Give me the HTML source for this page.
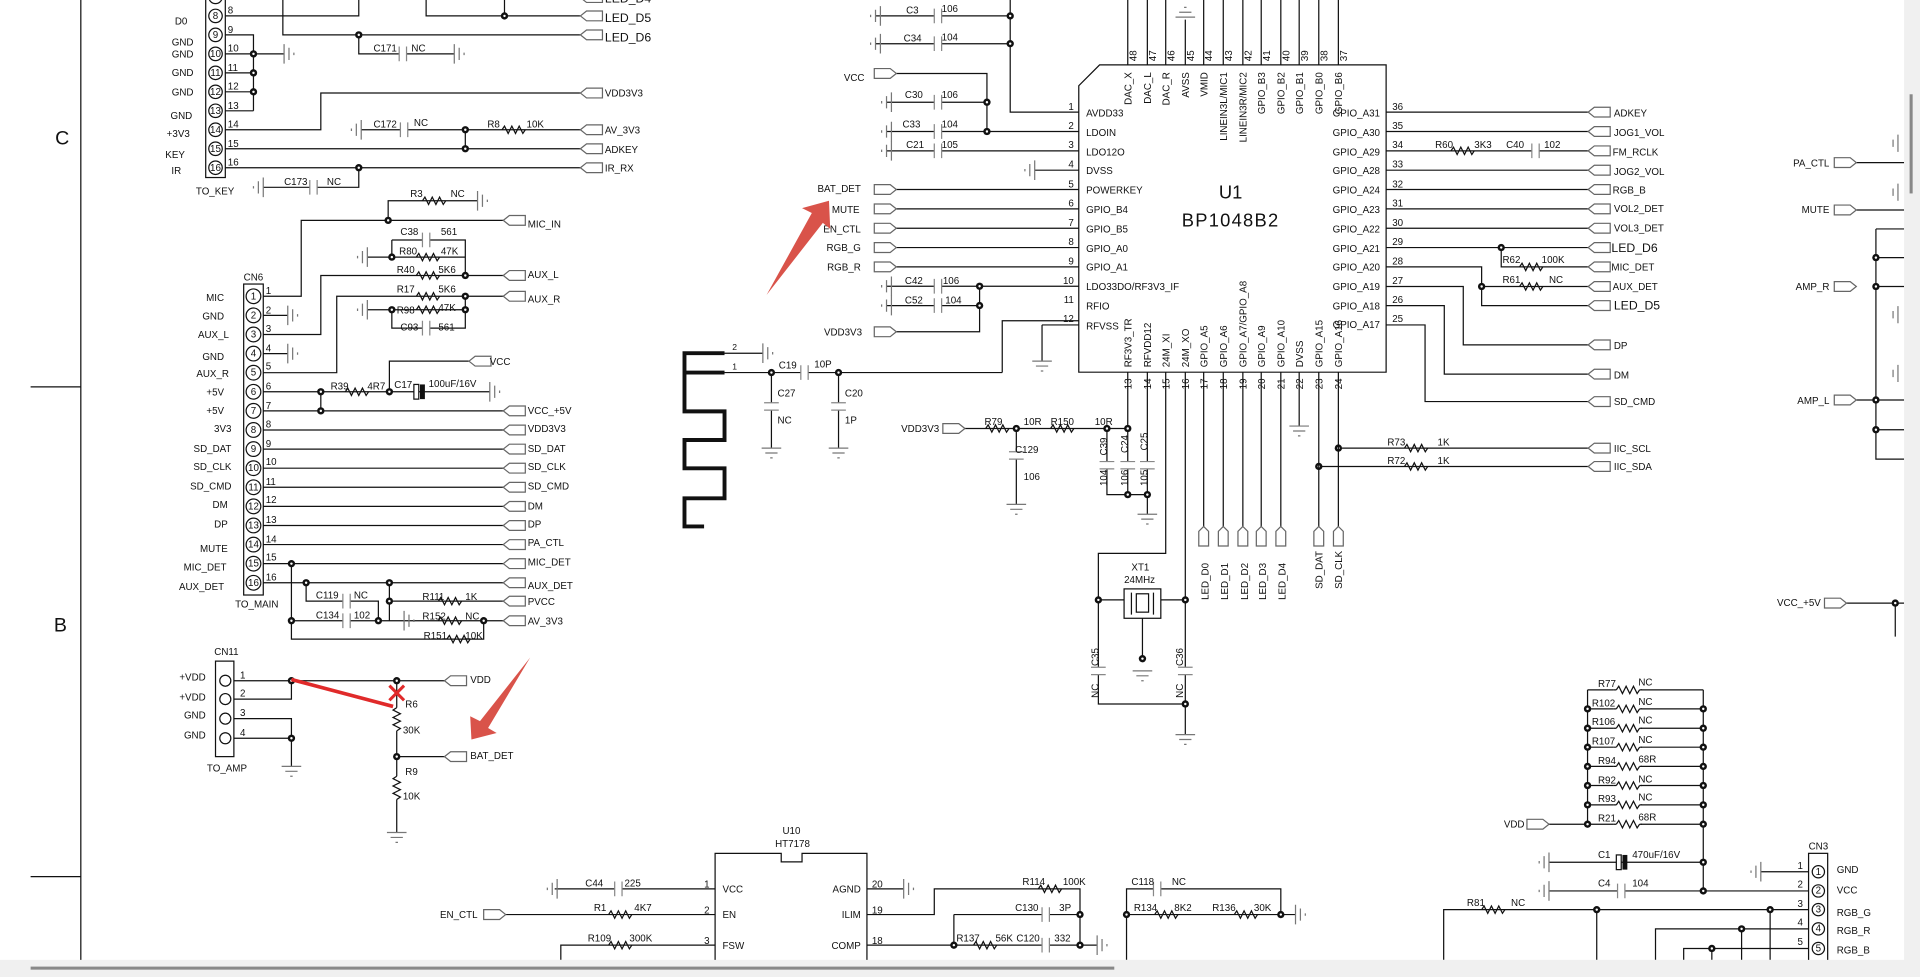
<!DOCTYPE html>
<html><head><meta charset="utf-8">
<style>
html,body{margin:0;padding:0;background:#fff;width:1920px;height:977px;overflow:hidden}
svg{display:block}
text{font-family:"Liberation Sans",sans-serif;font-size:8px;fill:#111}
.b{font-size:10px}
.u{font-size:15px}
.w path,.w polyline,.w line{fill:none;stroke:#111;stroke-width:1}
</style></head><body>
<svg width="1920" height="977" viewBox="0 0 1568 798" preserveAspectRatio="none" xmlns="http://www.w3.org/2000/svg">
<defs>
<g id="fl"><polygon points="0,0 5,-4 18,-4 18,4 5,4" fill="#fff" stroke="#666" stroke-width="1"/></g>
<g id="fr"><polygon points="0,0 -5,-4 -18,-4 -18,4 -5,4" fill="#fff" stroke="#666" stroke-width="1"/></g>
<g id="fu"><polygon points="0,0 -4,4 -4,16 4,16 4,4" fill="#fff" stroke="#666" stroke-width="1"/></g>
<g id="rh"><polyline points="0,0 2,-3 5,3 8,-3 11,3 14,-3 17,3 19,0" fill="none" stroke="#111"/></g>
<g id="rv"><polyline points="0,0 -3,2 3,5 -3,8 3,11 -3,14 3,17 0,19" fill="none" stroke="#111"/></g>
<g id="ch"><rect x="-3" y="-6" width="6" height="12" fill="#fff"/><path d="M-3,-6V6M3,-6V6" stroke="#888" fill="none"/></g>
<g id="cv"><rect x="-6" y="-3" width="12" height="6" fill="#fff"/><path d="M-6,-3H6M-6,3H6" stroke="#888" fill="none"/></g>
<g id="gl"><path d="M0,-8V8M-4,-5V5M-8,-1V1" stroke="#777" fill="none"/></g>
<g id="gr"><path d="M0,-8V8M4,-5V5M8,-1V1" stroke="#777" fill="none"/></g>
<g id="gd"><path d="M-8,0H8M-5,4H5M-1,8H1" stroke="#777" fill="none"/></g>
<g id="d"><circle r="3" fill="#111"/><circle r="1" fill="#fff"/></g>
<g id="ce"><rect x="-4" y="-6" width="4" height="12" fill="#fff" stroke="#111"/><rect x="1" y="-6" width="4" height="12" fill="#111"/></g>
</defs>

<g class="w">
<path d="M66,0V785M25,316H66M25,716H66"/>
</g>
<text x="45" y="118" style="font-size:16px">C</text>
<text x="44" y="516" style="font-size:16px">B</text>

<g class="w">
<rect x="168" y="-8" width="16" height="153" fill="none" stroke="#111"/>
<path d="M184,13H293V0 M231,0V28.5H474 M293,28.5V44H371 M184,28.5H207V90.5 M184,44H232 M184,59.5H207 M184,75H207 M184,90.5H207 M184,106H262V76H474 M295,106H474 M380,106V121.5 M184,121.5H474 M184,137H474 M293,137V153H215 M348,0V13H474 M412,0V13"/>
</g>
<g fill="#fff" stroke="#111">
<circle cx="176" cy="-2.5" r="5.5"/><circle cx="176" cy="13" r="5.5"/><circle cx="176" cy="28.5" r="5.5"/><circle cx="176" cy="44" r="5.5"/><circle cx="176" cy="59.5" r="5.5"/><circle cx="176" cy="75" r="5.5"/><circle cx="176" cy="90.5" r="5.5"/><circle cx="176" cy="106" r="5.5"/><circle cx="176" cy="121.5" r="5.5"/><circle cx="176" cy="137" r="5.5"/>
</g>
<g style="font-size:7px" text-anchor="middle">
<text x="176" y="15.5">8</text><text x="176" y="31">9</text><text x="176" y="46.5">10</text><text x="176" y="62">11</text><text x="176" y="77.5">12</text><text x="176" y="93">13</text><text x="176" y="108.5">14</text><text x="176" y="124">15</text><text x="176" y="139.5">16</text>
</g>
<g style="font-size:7px">
<text x="186" y="11">8</text><text x="186" y="27">9</text><text x="186" y="42">10</text><text x="186" y="58">11</text><text x="186" y="73">12</text><text x="186" y="89">13</text><text x="186" y="104">14</text><text x="186" y="120">15</text><text x="186" y="135">16</text>
</g>
<g text-anchor="end">
<text x="153" y="20">D0</text><text x="158" y="37">GND</text><text x="158" y="47">GND</text><text x="158" y="62">GND</text><text x="158" y="78">GND</text><text x="157" y="97">GND</text><text x="155" y="112">+3V3</text><text x="151" y="129">KEY</text><text x="148" y="142">IR</text>
</g>
<text x="160" y="159">TO_KEY</text>
<use href="#d" x="293" y="28.5"/><use href="#d" x="207" y="44"/><use href="#d" x="207" y="59.5"/><use href="#d" x="207" y="75"/><use href="#d" x="380" y="106"/><use href="#d" x="380" y="121.5"/><use href="#d" x="293" y="137"/><use href="#d" x="412" y="13"/>
<use href="#ch" x="329" y="44"/><use href="#gr" x="371" y="44"/><use href="#gr" x="232" y="44"/>
<use href="#ch" x="330" y="106"/><use href="#gl" x="295" y="106"/><use href="#rh" x="410" y="106"/>
<use href="#ch" x="256" y="153"/><use href="#gl" x="215" y="153"/>
<text x="305" y="42">C171</text><text x="336" y="42">NC</text>
<text x="305" y="104">C172</text><text x="338" y="103">NC</text><text x="398" y="104">R8</text><text x="430" y="104">10K</text>
<text x="232" y="151">C173</text><text x="267" y="151">NC</text>
<use href="#fl" x="474" y="-2"/><use href="#fl" x="474" y="13"/><use href="#fl" x="474" y="28.5"/><use href="#fl" x="474" y="76"/><use href="#fl" x="474" y="106"/><use href="#fl" x="474" y="121.5"/><use href="#fl" x="474" y="137"/>
<text x="494" y="2" class="b">LED_D4</text><text x="494" y="18" class="b">LED_D5</text><text x="494" y="34" class="b">LED_D6</text>
<text x="494" y="79">VDD3V3</text><text x="494" y="109">AV_3V3</text><text x="494" y="125">ADKEY</text><text x="494" y="140">IR_RX</text>

<rect x="199" y="232" width="16" height="254" fill="none" stroke="#111"/>
<text x="199" y="229">CN6</text>
<text x="192" y="496">TO_MAIN</text>
<g fill="#fff" stroke="#111">
<circle cx="207" cy="242" r="6"/><circle cx="207" cy="257.6" r="6"/><circle cx="207" cy="273.2" r="6"/><circle cx="207" cy="288.8" r="6"/><circle cx="207" cy="304.4" r="6"/><circle cx="207" cy="320" r="6"/><circle cx="207" cy="335.6" r="6"/><circle cx="207" cy="351.2" r="6"/><circle cx="207" cy="366.8" r="6"/><circle cx="207" cy="382.4" r="6"/><circle cx="207" cy="398" r="6"/><circle cx="207" cy="413.6" r="6"/><circle cx="207" cy="429.2" r="6"/><circle cx="207" cy="444.8" r="6"/><circle cx="207" cy="460.4" r="6"/><circle cx="207" cy="476" r="6"/>
</g>
<g style="font-size:7px" text-anchor="middle">
<text x="207" y="244.5">1</text><text x="207" y="260">2</text><text x="207" y="275.7">3</text><text x="207" y="291.3">4</text><text x="207" y="306.9">5</text><text x="207" y="322.5">6</text><text x="207" y="338">7</text><text x="207" y="353.7">8</text><text x="207" y="369.3">9</text><text x="207" y="384.9">10</text><text x="207" y="400.5">11</text><text x="207" y="416">12</text><text x="207" y="431.7">13</text><text x="207" y="447.3">14</text><text x="207" y="462.9">15</text><text x="207" y="478.5">16</text>
</g>
<g style="font-size:7px">
<text x="217" y="240">1</text><text x="217" y="256">2</text><text x="217" y="271">3</text><text x="217" y="287">4</text><text x="217" y="302">5</text><text x="217" y="318">6</text><text x="217" y="334">7</text><text x="217" y="349">8</text><text x="217" y="365">9</text><text x="217" y="380">10</text><text x="217" y="396">11</text><text x="217" y="411">12</text><text x="217" y="427">13</text><text x="217" y="443">14</text><text x="217" y="458">15</text><text x="217" y="474">16</text>
</g>
<g text-anchor="end">
<text x="183" y="246">MIC</text><text x="183" y="261">GND</text><text x="187" y="276">AUX_L</text><text x="183" y="294">GND</text><text x="187" y="308">AUX_R</text><text x="183" y="323">+5V</text><text x="183" y="338">+5V</text><text x="189" y="353">3V3</text><text x="189" y="369">SD_DAT</text><text x="189" y="384">SD_CLK</text><text x="189" y="400">SD_CMD</text><text x="186" y="415">DM</text><text x="186" y="431">DP</text><text x="186" y="451">MUTE</text><text x="185" y="466">MIC_DET</text><text x="183" y="482">AUX_DET</text>
</g>
<g class="w">
<path d="M215,242H246V180H411 M317,180V164H390 M215,257.6H235 M215,288.8H235 M215,273.2H262V225H411 M320,196H380V225 M300,210H380 M320,196V210 M215,304.4H275V242H411 M380,242V268H320V253 M300,253H380 M215,320H400 M318,320V295H383 M215,335.6H411 M262,320V335.6 M215,351.2H411 M215,366.8H411 M215,382.4H411 M215,398H411 M215,413.6H411 M215,429.2H411 M215,444.8H411 M215,460.4H411 M238,460.4V522H395V507 M215,476H411 M250,476V491H309V507 M238,507H330 M318,476V507 M318,491H411 M318,507H411"/>
</g>
<use href="#gr" x="235" y="257.6"/><use href="#gr" x="235" y="288.8"/>
<use href="#rh" x="345" y="164"/><use href="#gr" x="390" y="164"/><use href="#d" x="317" y="180"/>
<use href="#ch" x="348" y="196"/><use href="#rh" x="340" y="210"/><use href="#gl" x="300" y="210"/><use href="#d" x="320" y="210"/><use href="#rh" x="340" y="225"/><use href="#d" x="380" y="225"/>
<use href="#rh" x="340" y="242"/><use href="#d" x="380" y="242"/><use href="#rh" x="340" y="253"/><use href="#d" x="320" y="253"/><use href="#d" x="380" y="253"/><use href="#gl" x="300" y="253"/><use href="#ch" x="348" y="268"/>
<use href="#d" x="262" y="320"/><use href="#rh" x="282" y="320"/><use href="#d" x="318" y="320"/><use href="#ce" x="342" y="320"/><use href="#gr" x="400" y="320"/><use href="#d" x="262" y="335.6"/>
<use href="#d" x="238" y="460.4"/><use href="#d" x="250" y="476"/><use href="#d" x="318" y="476"/><use href="#ch" x="283" y="491"/><use href="#ch" x="283" y="507"/><use href="#d" x="238" y="507"/><use href="#d" x="309" y="507"/><use href="#gr" x="330" y="507"/><use href="#d" x="318" y="491"/><use href="#rh" x="358" y="491"/><use href="#rh" x="358" y="507"/><use href="#d" x="395" y="507"/><use href="#rh" x="365" y="522"/>
<text x="335" y="161">R3</text><text x="368" y="161">NC</text>
<text x="327" y="192">C38</text><text x="360" y="192">561</text><text x="326" y="208">R80</text><text x="360" y="208">47K</text><text x="324" y="223">R40</text><text x="358" y="223">5K6</text>
<text x="324" y="239">R17</text><text x="358" y="239">5K6</text><text x="324" y="256">R98</text><text x="358" y="254">47K</text><text x="327" y="270">C93</text><text x="358" y="270">561</text>
<text x="270" y="318">R39</text><text x="300" y="318">4R7</text><text x="322" y="317">C17</text><text x="350" y="316">100uF/16V</text>
<text x="258" y="489">C119</text><text x="289" y="489">NC</text><text x="258" y="505">C134</text><text x="289" y="505">102</text><text x="345" y="490">R111</text><text x="380" y="490">1K</text><text x="345" y="506">R152</text><text x="380" y="506">NC</text><text x="346" y="522">R151</text><text x="380" y="522">10K</text>
<use href="#fl" x="411" y="180"/><use href="#fl" x="411" y="225"/><use href="#fl" x="411" y="242"/><use href="#fl" x="383" y="295"/>
<use href="#fl" x="411" y="335.6"/><use href="#fl" x="411" y="351.2"/><use href="#fl" x="411" y="366.8"/><use href="#fl" x="411" y="382.4"/><use href="#fl" x="411" y="398"/><use href="#fl" x="411" y="413.6"/><use href="#fl" x="411" y="429.2"/><use href="#fl" x="411" y="444.8"/><use href="#fl" x="411" y="460.4"/><use href="#fl" x="411" y="476"/><use href="#fl" x="411" y="491"/><use href="#fl" x="411" y="507"/>
<text x="431" y="186">MIC_IN</text><text x="431" y="227">AUX_L</text><text x="431" y="247">AUX_R</text><text x="400" y="298">VCC</text>
<text x="431" y="338">VCC_+5V</text><text x="431" y="353">VDD3V3</text><text x="431" y="369">SD_DAT</text><text x="431" y="384">SD_CLK</text><text x="431" y="400">SD_CMD</text><text x="431" y="416">DM</text><text x="431" y="431">DP</text><text x="431" y="446">PA_CTL</text><text x="431" y="462">MIC_DET</text><text x="431" y="481">AUX_DET</text><text x="431" y="494">PVCC</text><text x="431" y="510">AV_3V3</text>

<rect x="176" y="540" width="15" height="78" fill="none" stroke="#111"/>
<g fill="#fff" stroke="#111"><circle cx="184" cy="556" r="4.5"/><circle cx="184" cy="571" r="4.5"/><circle cx="184" cy="587" r="4.5"/><circle cx="184" cy="603" r="4.5"/></g>
<text x="175" y="535">CN11</text><text x="169" y="630">TO_AMP</text>
<g text-anchor="end"><text x="168" y="556">+VDD</text><text x="168" y="572">+VDD</text><text x="168" y="587">GND</text><text x="168" y="603">GND</text></g>
<g style="font-size:7px"><text x="196" y="554">1</text><text x="196" y="569">2</text><text x="196" y="585">3</text><text x="196" y="601">4</text></g>
<g class="w"><path d="M191,556H363 M191,571H238V556 M191,587H238V626 M191,603H238 M324,556V578 M324,597V634 M324,618H363 M324,653V680"/></g>
<use href="#d" x="238" y="556"/><use href="#d" x="324" y="556"/><use href="#d" x="238" y="603"/><use href="#d" x="324" y="618"/>
<use href="#gd" x="238" y="626"/><use href="#gd" x="324" y="680"/>
<use href="#rv" x="324" y="578"/><use href="#rv" x="324" y="634"/>
<text x="331" y="578">R6</text><text x="329" y="599">30K</text><text x="331" y="633">R9</text><text x="329" y="653">10K</text>
<use href="#fl" x="363" y="556"/><use href="#fl" x="363" y="618"/>
<text x="384" y="558">VDD</text><text x="384" y="620">BAT_DET</text>

<path d="M898,53H1132V304H881V70Z" fill="none" stroke="#111"/>
<text x="1005" y="162" class="u" text-anchor="middle">U1</text>
<text x="1005" y="185" class="u" text-anchor="middle" style="letter-spacing:1px">BP1048B2</text>
<g class="w"><path d="M921,0V53M937,0V53M952,0V53M968,16V53M983,0V53M999,0V53M1015,0V53M1030,0V53M1046,0V53M1061,0V53M1077,0V53M1093,0V53"/></g>
<path d="M960,14H976M963,10H973M967,6H969" stroke="#777" fill="none"/>
<g style="font-size:7px">
<text transform="translate(928,50) rotate(-90)">48</text><text transform="translate(944,50) rotate(-90)">47</text><text transform="translate(959,50) rotate(-90)">46</text><text transform="translate(975,50) rotate(-90)">45</text><text transform="translate(990,50) rotate(-90)">44</text><text transform="translate(1006,50) rotate(-90)">43</text><text transform="translate(1022,50) rotate(-90)">42</text><text transform="translate(1037,50) rotate(-90)">41</text><text transform="translate(1053,50) rotate(-90)">40</text><text transform="translate(1068,50) rotate(-90)">39</text><text transform="translate(1084,50) rotate(-90)">38</text><text transform="translate(1100,50) rotate(-90)">37</text>
</g>
<g text-anchor="end">
<text transform="translate(924,59) rotate(-90)">DAC_X</text><text transform="translate(940,59) rotate(-90)">DAC_L</text><text transform="translate(955,59) rotate(-90)">DAC_R</text><text transform="translate(971,59) rotate(-90)">AVSS</text><text transform="translate(986,59) rotate(-90)">VMID</text><text transform="translate(1002,59) rotate(-90)">LINEIN3L/MIC1</text><text transform="translate(1018,59) rotate(-90)">LINEIN3R/MIC2</text><text transform="translate(1033,59) rotate(-90)">GPIO_B3</text><text transform="translate(1049,59) rotate(-90)">GPIO_B2</text><text transform="translate(1064,59) rotate(-90)">GPIO_B1</text><text transform="translate(1080,59) rotate(-90)">GPIO_B0</text><text transform="translate(1096,59) rotate(-90)">GPIO_B6</text>
</g>
<g class="w"><path d="M825,0V91.6H881 M715,13H825 M715,35.7H825 M732,60H806V107.4 M724,83.5H806 M724,107.4H881 M724,123.2H881 M845,139H881 M732,154.8H881 M732,170.6H881 M732,186.4H881 M732,202.2H881 M732,218H881 M724,233.8H881 M724,249.6H800V271H732 M800,233.8V249.6 M818.5,304.3V262H881 M851,265.4H881 M851,265.4V295"/></g>
<use href="#d" x="825" y="13"/><use href="#d" x="825" y="35.7"/><use href="#d" x="806" y="83.5"/><use href="#d" x="806" y="107.4"/><use href="#d" x="800" y="233.8"/><use href="#d" x="800" y="249.6"/>
<use href="#ch" x="766" y="13"/><use href="#ch" x="766" y="35.7"/><use href="#ch" x="766" y="83.5"/><use href="#ch" x="766" y="107.4"/><use href="#ch" x="766" y="123.2"/><use href="#ch" x="766" y="233.8"/><use href="#ch" x="766" y="249.6"/>
<use href="#gl" x="719" y="13"/><use href="#gl" x="719" y="35.7"/><use href="#gl" x="728" y="83.5"/><use href="#gl" x="728" y="107.4"/><use href="#gl" x="728" y="123.2"/><use href="#gl" x="845" y="139"/><use href="#gl" x="728" y="233.8"/><use href="#gl" x="728" y="249.6"/><use href="#gd" x="851" y="295"/>
<text x="740" y="11">C3</text><text x="769" y="10">106</text><text x="738" y="34">C34</text><text x="769" y="33">104</text><text x="739" y="80">C30</text><text x="769" y="80">106</text><text x="737" y="104">C33</text><text x="769" y="104">104</text><text x="740" y="121">C21</text><text x="769" y="121">105</text><text x="739" y="232">C42</text><text x="770" y="232">106</text><text x="739" y="248">C52</text><text x="772" y="248">104</text>
<use href="#fr" x="732" y="60"/><use href="#fr" x="732" y="154.8"/><use href="#fr" x="732" y="170.6"/><use href="#fr" x="732" y="186.4"/><use href="#fr" x="732" y="202.2"/><use href="#fr" x="732" y="218"/><use href="#fr" x="732" y="271"/>
<g text-anchor="end"><text x="706" y="66">VCC</text><text x="703" y="157">BAT_DET</text><text x="702" y="174">MUTE</text><text x="703" y="190">EN_CTL</text><text x="703" y="205">RGB_G</text><text x="703" y="221">RGB_R</text><text x="704" y="274">VDD3V3</text></g>
<g style="font-size:7px" text-anchor="end"><text x="877" y="90">1</text><text x="877" y="105.5">2</text><text x="877" y="121">3</text><text x="877" y="137">4</text><text x="877" y="153">5</text><text x="877" y="168.5">6</text><text x="877" y="184.5">7</text><text x="877" y="200">8</text><text x="877" y="216">9</text><text x="877" y="232">10</text><text x="877" y="247.5">11</text><text x="877" y="263">12</text></g>
<g><text x="887" y="95">AVDD33</text><text x="887" y="111">LDOIN</text><text x="887" y="127">LDO12O</text><text x="887" y="142">DVSS</text><text x="887" y="158">POWERKEY</text><text x="887" y="174">GPIO_B4</text><text x="887" y="190">GPIO_B5</text><text x="887" y="206">GPIO_A0</text><text x="887" y="221">GPIO_A1</text><text x="887" y="237">LDO33DO/RF3V3_IF</text><text x="887" y="253">RFIO</text><text x="887" y="269">RFVSS</text></g>
<g text-anchor="end"><text x="1127" y="95">GPIO_A31</text><text x="1127" y="111">GPIO_A30</text><text x="1127" y="127">GPIO_A29</text><text x="1127" y="142">GPIO_A28</text><text x="1127" y="158">GPIO_A24</text><text x="1127" y="174">GPIO_A23</text><text x="1127" y="190">GPIO_A22</text><text x="1127" y="206">GPIO_A21</text><text x="1127" y="221">GPIO_A20</text><text x="1127" y="237">GPIO_A19</text><text x="1127" y="253">GPIO_A18</text><text x="1127" y="268">GPIO_A17</text></g>
<g style="font-size:7px"><text x="1137" y="90">36</text><text x="1137" y="105.5">35</text><text x="1137" y="121">34</text><text x="1137" y="137">33</text><text x="1137" y="153">32</text><text x="1137" y="168.5">31</text><text x="1137" y="184.5">30</text><text x="1137" y="200">29</text><text x="1137" y="216">28</text><text x="1137" y="232">27</text><text x="1137" y="247.5">26</text><text x="1137" y="263">25</text></g>
<g class="w"><path d="M1132,91.6H1297 M1132,107.4H1297 M1132,123.2H1297 M1132,139H1297 M1132,154.8H1297 M1132,170.6H1297 M1132,186.4H1297 M1132,202.2H1297 M1226,202.2V218H1297 M1132,218H1210V249.6H1297 M1210,234H1297 M1132,234H1195V281.7H1297 M1132,249.6H1179.5V305.6H1297 M1132,265.4H1163.8V328H1297 M1093,366H1297 M1077,381H1297"/></g>
<use href="#rh" x="1185" y="123.2"/><use href="#ch" x="1254" y="123.2"/><use href="#d" x="1226" y="202.2"/><use href="#rh" x="1241" y="218"/><use href="#d" x="1210" y="234"/><use href="#rh" x="1241" y="234"/>
<use href="#rh" x="1147" y="366"/><use href="#rh" x="1147" y="381"/><use href="#d" x="1093" y="366"/><use href="#d" x="1077" y="381"/>
<text x="1172" y="121">R60</text><text x="1204" y="121">3K3</text><text x="1230" y="121">C40</text><text x="1261" y="121">102</text><text x="1227" y="215">R62</text><text x="1259" y="215">100K</text><text x="1227" y="231">R61</text><text x="1265" y="231">NC</text>
<text x="1133" y="364">R73</text><text x="1174" y="364">1K</text><text x="1133" y="379">R72</text><text x="1174" y="379">1K</text>
<g><use href="#fl" x="1297" y="91.6"/><use href="#fl" x="1297" y="107.4"/><use href="#fl" x="1297" y="123.2"/><use href="#fl" x="1297" y="139"/><use href="#fl" x="1297" y="154.8"/><use href="#fl" x="1297" y="170.6"/><use href="#fl" x="1297" y="186.4"/><use href="#fl" x="1297" y="202.2"/><use href="#fl" x="1297" y="218"/><use href="#fl" x="1297" y="234"/><use href="#fl" x="1297" y="249.6"/><use href="#fl" x="1297" y="281.7"/><use href="#fl" x="1297" y="305.6"/><use href="#fl" x="1297" y="328"/><use href="#fl" x="1297" y="366"/><use href="#fl" x="1297" y="381"/></g>
<text x="1318" y="95">ADKEY</text><text x="1318" y="111">JOG1_VOL</text><text x="1317" y="127">FM_RCLK</text><text x="1318" y="143">JOG2_VOL</text><text x="1317" y="158">RGB_B</text><text x="1318" y="173">VOL2_DET</text><text x="1318" y="189">VOL3_DET</text><text x="1316" y="206" class="b">LED_D6</text><text x="1316" y="221">MIC_DET</text><text x="1317" y="237">AUX_DET</text><text x="1318" y="253" class="b">LED_D5</text><text x="1318" y="285">DP</text><text x="1318" y="309">DM</text><text x="1318" y="331">SD_CMD</text><text x="1318" y="369">IIC_SCL</text><text x="1318" y="384">IIC_SDA</text>
<g style="font-size:7px">
<text transform="translate(924,318) rotate(-90)">13</text><text transform="translate(940,318) rotate(-90)">14</text><text transform="translate(955,318) rotate(-90)">15</text><text transform="translate(971,318) rotate(-90)">16</text><text transform="translate(986,318) rotate(-90)">17</text><text transform="translate(1002,318) rotate(-90)">18</text><text transform="translate(1018,318) rotate(-90)">19</text><text transform="translate(1033,318) rotate(-90)">20</text><text transform="translate(1049,318) rotate(-90)">21</text><text transform="translate(1064,318) rotate(-90)">22</text><text transform="translate(1080,318) rotate(-90)">23</text><text transform="translate(1096,318) rotate(-90)">24</text>
</g>
<g>
<text transform="translate(924,300) rotate(-90)">RF3V3_TR</text><text transform="translate(940,300) rotate(-90)">RFVDD12</text><text transform="translate(955,300) rotate(-90)">24M_XI</text><text transform="translate(971,300) rotate(-90)">24M_XO</text><text transform="translate(986,300) rotate(-90)">GPIO_A5</text><text transform="translate(1002,300) rotate(-90)">GPIO_A6</text><text transform="translate(1018,300) rotate(-90)">GPIO_A7/GPIO_A8</text><text transform="translate(1033,300) rotate(-90)">GPIO_A9</text><text transform="translate(1049,300) rotate(-90)">GPIO_A10</text><text transform="translate(1064,300) rotate(-90)">DVSS</text><text transform="translate(1080,300) rotate(-90)">GPIO_A15</text><text transform="translate(1096,300) rotate(-90)">GPIO_A16</text>
</g>
<g class="w"><path d="M921,304V404 M937,304V420 M904,350V404H937 M952,304V452H897V575H968 M968,304V600 M897,490H920 M946,490H968 M933,505V538 M983,304V430 M999,304V430 M1015,304V430 M1030,304V430 M1046,304V430 M1061,304V348 M1077,304V430 M1093,304V430 M788,350H921 M830,350V412"/></g>
<use href="#fr" x="788" y="350"/><text x="767" y="353" text-anchor="end">VDD3V3</text>
<use href="#rh" x="805" y="350"/><use href="#d" x="830" y="350"/><use href="#rh" x="858" y="350"/><use href="#d" x="904" y="350"/><use href="#d" x="921" y="350"/>
<use href="#cv" x="830" y="372"/><use href="#gd" x="830" y="412"/><use href="#cv" x="904" y="380"/><use href="#cv" x="921" y="380"/><use href="#cv" x="937" y="380"/><use href="#d" x="921" y="404"/><use href="#d" x="937" y="404"/><use href="#gd" x="937" y="420"/>
<text x="804" y="347">R79</text><text x="836" y="347">10R</text><text x="858" y="347">R150</text><text x="894" y="347">10R</text><text x="829" y="370">C129</text><text x="836" y="392">106</text>
<g><text transform="translate(904,372) rotate(-90)">C39</text><text transform="translate(921,370) rotate(-90)">C24</text><text transform="translate(937,368) rotate(-90)">C25</text><text transform="translate(904,397) rotate(-90)">104</text><text transform="translate(921,397) rotate(-90)">106</text><text transform="translate(937,397) rotate(-90)">105</text></g>
<rect x="918" y="481" width="30" height="24" fill="#fff" stroke="#111"/><rect x="928" y="485" width="10" height="15" fill="none" stroke="#111"/><path d="M924,484V502M942,484V502" stroke="#111"/>
<text x="924" y="466">XT1</text><text x="918" y="476">24MHz</text>
<use href="#d" x="897" y="490"/><use href="#d" x="968" y="490"/><use href="#d" x="933" y="538"/><use href="#d" x="968" y="575"/><use href="#gd" x="933" y="548"/><use href="#gd" x="968" y="600"/><use href="#gd" x="1061" y="348"/>
<use href="#cv" x="897" y="548"/><use href="#cv" x="968" y="548"/>
<text transform="translate(897,544) rotate(-90)">C35</text><text transform="translate(897,570) rotate(-90)">NC</text><text transform="translate(966,544) rotate(-90)">C36</text><text transform="translate(966,570) rotate(-90)">NC</text>
<use href="#fu" x="983" y="430"/><use href="#fu" x="999" y="430"/><use href="#fu" x="1015" y="430"/><use href="#fu" x="1030" y="430"/><use href="#fu" x="1046" y="430"/><use href="#fu" x="1077" y="430"/><use href="#fu" x="1093" y="430"/>
<g class="b"><text transform="translate(987,490) rotate(-90)">LED_D0</text><text transform="translate(1003,490) rotate(-90)">LED_D1</text><text transform="translate(1019,490) rotate(-90)">LED_D2</text><text transform="translate(1034,490) rotate(-90)">LED_D3</text><text transform="translate(1050,490) rotate(-90)">LED_D4</text></g>
<text transform="translate(1080,481) rotate(-90)">SD_DAT</text><text transform="translate(1096,481) rotate(-90)">SD_CLK</text>

<path d="M591.7,288.5H559V336H591.7V359.4H559V382.5H591.7V407H559V430H575 M559,304.3H591.7" fill="none" stroke="#111" stroke-width="3.2"/>
<g class="w"><path d="M591.7,288.5H623 M591.7,304.3H818.5 M630,304.3V366 M684.8,304.3V366"/></g>
<use href="#gr" x="623" y="288.5"/><use href="#d" x="630" y="304.3"/><use href="#ch" x="657" y="304.3"/><use href="#d" x="684.8" y="304.3"/><use href="#cv" x="630" y="332"/><use href="#cv" x="684.8" y="332"/><use href="#gd" x="630" y="366"/><use href="#gd" x="684.8" y="366"/>
<text x="598" y="286" style="font-size:7px">2</text><text x="598" y="302" style="font-size:7px">1</text><text x="636" y="301">C19</text><text x="665" y="300">10P</text><text x="635" y="324">C27</text><text x="635" y="346">NC</text><text x="690" y="324">C20</text><text x="690" y="346">1P</text>

<path d="M584,697H638V704H655V697H708V790H584Z" fill="none" stroke="#111"/>
<text x="639" y="681">U10</text><text x="633" y="692">HT7178</text>
<text x="590" y="729">VCC</text><text x="590" y="750">EN</text><text x="590" y="775">FSW</text>
<g text-anchor="end"><text x="703" y="729">AGND</text><text x="703" y="750">ILIM</text><text x="703" y="775">COMP</text></g>
<g style="font-size:7px"><text x="575" y="725">1</text><text x="575" y="746">2</text><text x="575" y="771">3</text><text x="712" y="725">20</text><text x="712" y="746">19</text><text x="712" y="771">18</text></g>
<g class="w"><path d="M453,726H584 M413,747H584 M458,784V772H584 M708,726H738 M708,747H763V726H882V772 M779,747H882 M779,747V772 M708,772H896 M920,784V726H1046V747H1058 M920,747H1046"/></g>
<use href="#gl" x="455" y="726"/><use href="#ch" x="505" y="726"/><use href="#fr" x="413" y="747"/><use href="#rh" x="497" y="747"/><use href="#rh" x="497" y="772"/>
<use href="#gr" x="738" y="726"/><use href="#rh" x="848" y="726"/><use href="#ch" x="854" y="747"/><use href="#d" x="882" y="747"/><use href="#d" x="779" y="772"/><use href="#rh" x="795" y="772"/><use href="#ch" x="854" y="772"/><use href="#d" x="882" y="772"/><use href="#gr" x="896" y="772"/>
<use href="#ch" x="945" y="726"/><use href="#d" x="920" y="747"/><use href="#rh" x="943" y="747"/><use href="#rh" x="1008" y="747"/><use href="#d" x="1046" y="747"/><use href="#gr" x="1058" y="747"/>
<text x="390" y="750" text-anchor="end">EN_CTL</text>
<text x="478" y="724">C44</text><text x="510" y="724">225</text><text x="485" y="744">R1</text><text x="518" y="744">4K7</text><text x="480" y="769">R109</text><text x="514" y="769">300K</text>
<text x="835" y="723">R114</text><text x="868" y="723">100K</text><text x="829" y="744">C130</text><text x="865" y="744">3P</text><text x="781" y="769">R137</text><text x="813" y="769">56K</text><text x="830" y="769">C120</text><text x="861" y="769">332</text>
<text x="924" y="723">C118</text><text x="957" y="723">NC</text><text x="926" y="744">R134</text><text x="959" y="744">8K2</text><text x="990" y="744">R136</text><text x="1024" y="744">30K</text>

<g class="w"><path d="M1296.5,563.5V673.2 M1391,563.5V727.7 M1296.5,563.5H1391 M1296.5,579H1391 M1296.5,594.8H1391 M1296.5,610.3H1391 M1296.5,626H1391 M1296.5,641.6H1391 M1296.5,657.4H1391 M1265,673.2H1391 M1265,704.3H1391 M1265,727.7H1477 M1179,784V743H1477 M1304,743V784 M1445.6,743V784 M1438,712H1477 M1352,784V758.7H1477 M1422.3,758.7V784 M1375,784V774.7H1477 M1398,774.7V784"/></g>
<g fill="#fff"><rect x="1318" y="558" width="22" height="120"/></g>
<use href="#rh" x="1320" y="563.5"/><use href="#rh" x="1320" y="579"/><use href="#rh" x="1320" y="594.8"/><use href="#rh" x="1320" y="610.3"/><use href="#rh" x="1320" y="626"/><use href="#rh" x="1320" y="641.6"/><use href="#rh" x="1320" y="657.4"/><use href="#rh" x="1320" y="673.2"/>
<path d="M1318,563.5H1320M1339,563.5H1341M1318,579H1320M1339,579H1341M1318,594.8H1320M1339,594.8H1341M1318,610.3H1320M1339,610.3H1341M1318,626H1320M1339,626H1341M1318,641.6H1320M1339,641.6H1341M1318,657.4H1320M1339,657.4H1341M1318,673.2H1320M1339,673.2H1341" stroke="#111"/>
<use href="#d" x="1296.5" y="579"/><use href="#d" x="1296.5" y="594.8"/><use href="#d" x="1296.5" y="610.3"/><use href="#d" x="1296.5" y="626"/><use href="#d" x="1296.5" y="641.6"/><use href="#d" x="1296.5" y="657.4"/><use href="#d" x="1296.5" y="673.2"/>
<use href="#d" x="1391" y="579"/><use href="#d" x="1391" y="594.8"/><use href="#d" x="1391" y="610.3"/><use href="#d" x="1391" y="626"/><use href="#d" x="1391" y="641.6"/><use href="#d" x="1391" y="657.4"/><use href="#d" x="1391" y="673.2"/><use href="#d" x="1391" y="704.3"/><use href="#d" x="1391" y="727.7"/>
<text x="1305" y="561">R77</text><text x="1338" y="560">NC</text><text x="1300" y="577">R102</text><text x="1338" y="576">NC</text><text x="1300" y="592">R106</text><text x="1338" y="591">NC</text><text x="1300" y="608">R107</text><text x="1338" y="607">NC</text><text x="1305" y="624">R94</text><text x="1338" y="623">68R</text><text x="1305" y="640">R92</text><text x="1338" y="639">NC</text><text x="1305" y="655">R93</text><text x="1338" y="654">NC</text><text x="1305" y="671">R21</text><text x="1338" y="670">68R</text>
<use href="#fr" x="1265" y="673.2"/><text x="1245" y="676" text-anchor="end">VDD</text>
<use href="#gl" x="1265" y="704.3"/><use href="#ce" x="1324" y="704.3"/><text x="1305" y="701">C1</text><text x="1333" y="701">470uF/16V</text>
<use href="#gl" x="1265" y="727.7"/><use href="#ch" x="1324" y="727.7"/><text x="1305" y="724">C4</text><text x="1333" y="724">104</text>
<use href="#rh" x="1210" y="743"/><text x="1198" y="740">R81</text><text x="1234" y="740">NC</text>
<use href="#d" x="1304" y="743"/><use href="#d" x="1445.6" y="743"/><use href="#d" x="1422.3" y="758.7"/><use href="#d" x="1398" y="774.7"/><use href="#gl" x="1438" y="712"/>
<rect x="1477" y="697" width="15.6" height="90" fill="none" stroke="#111"/><text x="1477" y="694">CN3</text>
<g fill="#fff" stroke="#111"><circle cx="1485" cy="712" r="5"/><circle cx="1485" cy="727.7" r="5"/><circle cx="1485" cy="743" r="5"/><circle cx="1485" cy="758.7" r="5"/><circle cx="1485" cy="774.7" r="5"/></g>
<g style="font-size:7px" text-anchor="middle"><text x="1485" y="714.5">1</text><text x="1485" y="730">2</text><text x="1485" y="745.5">3</text><text x="1485" y="761">4</text><text x="1485" y="777">5</text></g>
<g style="font-size:7px"><text x="1468" y="710">1</text><text x="1468" y="725">2</text><text x="1468" y="741">3</text><text x="1468" y="756">4</text><text x="1468" y="772">5</text></g>
<text x="1500" y="713">GND</text><text x="1500" y="730">VCC</text><text x="1500" y="748">RGB_G</text><text x="1500" y="763">RGB_R</text><text x="1500" y="779">RGB_B</text>

<g class="w"><path d="M1516,132.8H1555 M1516,171.5H1555 M1532,187H1555 M1532,187V351 M1532,210.4H1555 M1532,234H1555 M1516,326.7H1555 M1532,351H1555 M1532,351V375H1555 M1508,492.6H1555 M1547.8,492.6V520"/></g>
<use href="#fr" x="1516" y="132.8"/><use href="#fr" x="1516" y="171.5"/><use href="#fr" x="1516" y="234"/><use href="#fr" x="1516" y="326.7"/><use href="#fr" x="1508" y="492.6"/>
<use href="#d" x="1532" y="210.4"/><use href="#d" x="1532" y="234"/><use href="#d" x="1532" y="326.7"/><use href="#d" x="1532" y="351"/><use href="#d" x="1547.8" y="492.6"/>
<path d="M1550,110V124M1546,114V120M1550,150V164M1546,154V160M1550,250V264M1546,254V260M1550,298V312M1546,302V308" stroke="#777"/>
<g text-anchor="end"><text x="1494" y="136">PA_CTL</text><text x="1494" y="174">MUTE</text><text x="1494" y="237">AMP_R</text><text x="1494" y="330">AMP_L</text><text x="1487" y="495">VCC_+5V</text></g>

<polygon points="677,164 655,170 663,174 626,241 672,182 678,187" fill="#d9534a"/>
<polygon points="385,604 384,585 392,589 433,537 398.6,594.6 405.6,598.7" fill="#d9534a"/>
<path d="M238,555L321,577" stroke="#e02a2a" stroke-width="3" fill="none"/>
<path d="M318,560L330,572M330,560L318,572" stroke="#e02a2a" stroke-width="2.5"/>

<rect x="1555" y="0" width="13" height="798" fill="#f0f0f0"/>
<rect x="1559.5" y="77" width="2.5" height="81" fill="#888"/>
<rect x="0" y="784" width="1568" height="14" fill="#f0f0f0"/>
<rect x="25" y="789.5" width="885" height="2.5" fill="#888"/>
</svg>
</body></html>
